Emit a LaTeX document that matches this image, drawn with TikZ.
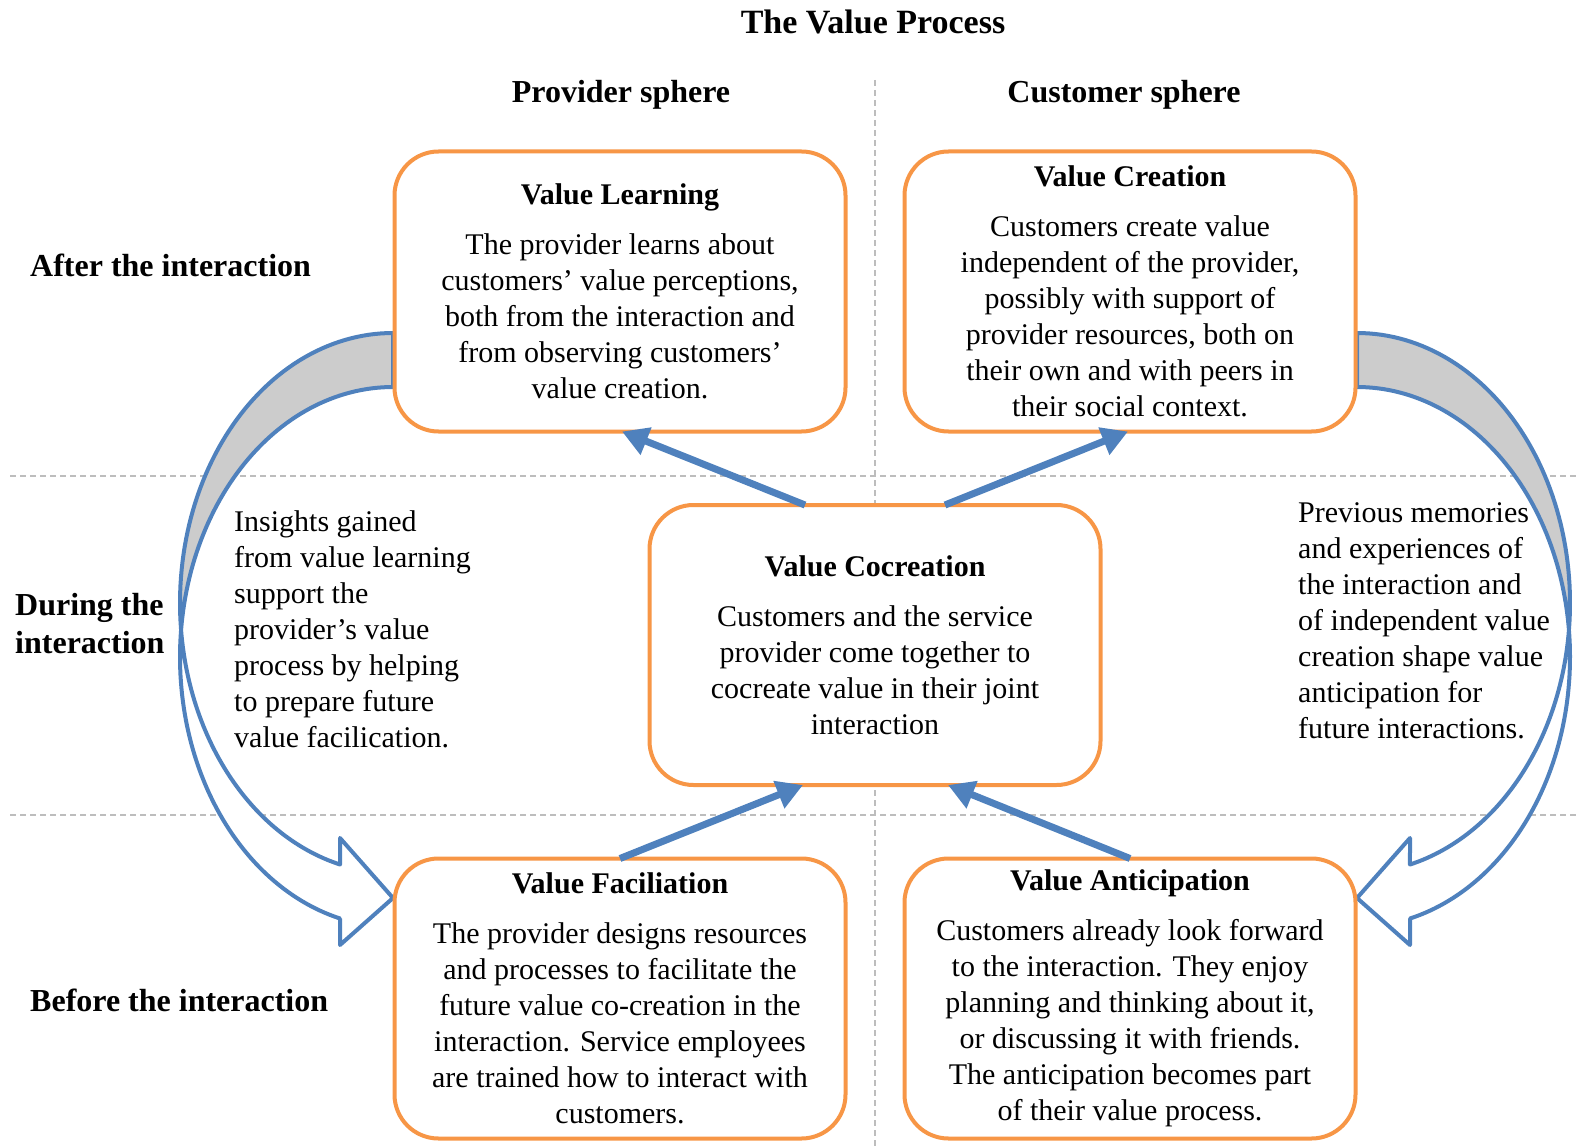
\documentclass[tikz,border=0pt]{standalone}
\usepackage{fontspec}
\setmainfont{Liberation Serif}
\usetikzlibrary{arrows.meta}
\definecolor{org}{HTML}{F79646}
\definecolor{blu}{HTML}{4F81BD}
\definecolor{dashgray}{HTML}{BDBDBD}
\definecolor{backgray}{HTML}{CCCCCC}
\begin{document}
\begin{tikzpicture}[x=1pt,y=-1pt,
  box/.style={draw=org, line width=4pt, fill=white, rounded corners=44pt,
    minimum width=451pt, minimum height=280pt, align=center, inner sep=0pt,
    outer sep=0pt, font=\fontsize{30}{36}\selectfont},
  barrow/.style={draw=blu, line width=7pt, -{Triangle[length=26pt,width=28pt]}},
  carrow/.style={draw=blu, line width=4pt, line join=round},
  sep/.style={draw=dashgray, line width=1.5pt, dash pattern=on 6pt off 4pt},
  hdr/.style={font=\fontsize{32}{38}\selectfont\bfseries},
  note/.style={align=left, anchor=west, inner sep=0pt, font=\fontsize{30}{36}\selectfont}]
\useasboundingbox (0,0) rectangle (1576,1147);

% dashed separators
\draw[sep] (875,80) -- (875,1147);
\draw[sep] (10,476) -- (1576,476);
\draw[sep] (10,815) -- (1576,815);

% left curved arrow
\draw[carrow, fill=backgray]
  plot[domain=-90:-185.74, samples=60] ({393+213*cos(\x)},{603+270*sin(\x)})
  -- plot[domain=-174.26:-90, samples=60] ({393+213*cos(\x)},{657+270*sin(\x)}) -- cycle;
\draw[carrow, fill=white]
  plot[domain=-185.74:-255.6, samples=60] ({393+213*cos(\x)},{603+270*sin(\x)})
  -- (340,838) -- (393,898) -- (340,945) -- (340,918.5)
  -- plot[domain=-255.6:-174.26, samples=60] ({393+213*cos(\x)},{657+270*sin(\x)}) -- cycle;

% right curved arrow
\draw[carrow, fill=backgray]
  plot[domain=-90:-185.74, samples=60] ({1357-213*cos(\x)},{603+270*sin(\x)})
  -- plot[domain=-174.26:-90, samples=60] ({1357-213*cos(\x)},{657+270*sin(\x)}) -- cycle;
\draw[carrow, fill=white]
  plot[domain=-185.74:-255.6, samples=60] ({1357-213*cos(\x)},{603+270*sin(\x)})
  -- (1410,838) -- (1357,898) -- (1410,945) -- (1410,918.5)
  -- plot[domain=-255.6:-174.26, samples=60] ({1357-213*cos(\x)},{657+270*sin(\x)}) -- cycle;

% titles
\node[font=\fontsize{34}{40}\selectfont\bfseries] (title) at (873,22) {The Value Process};
\node[hdr] (prov) at (621,95) {Provider sphere};
\node[hdr] (cust) at (1124,95) {Customer sphere};
\node[hdr, anchor=west, inner sep=0pt] (after) at (30,265) {After the interaction};
\node[hdr, anchor=west, inner sep=0pt, align=left] (during) at (15,624) {During the\\interaction};
\node[hdr, anchor=west, inner sep=0pt] (before) at (30,1000) {Before the interaction};

% boxes
\node[box] (learn) at (620,291.5) {{\bfseries Value Learning}\\[14pt]The provider learns about\\customers’ value perceptions,\\both from the interaction and\\from observing customers’\\value creation.};
\node[box] (create) at (1130,291.5) {{\bfseries Value Creation}\\[14pt]Customers create value\\independent of the provider,\\possibly with support of\\provider resources, both on\\their own and with peers in\\their social context.};
\node[box] (coc) at (875,645) {{\bfseries Value Cocreation}\\[14pt]Customers and the service\\provider come together to\\cocreate value in their joint\\interaction};
\node[box] (fac) at (620,998.5) {{\bfseries Value Faciliation}\\[14pt]The provider designs resources\\and processes to facilitate the\\future value co-creation in the\\interaction. Service employees\\are trained how to interact with\\customers.};
\node[box] (ant) at (1130,998.5) {{\bfseries Value Anticipation}\\[14pt]Customers already look forward\\to the interaction. They enjoy\\planning and thinking about it,\\or discussing it with friends.\\The anticipation becomes part\\of their value process.};

% straight arrows
\draw[barrow] ([xshift=-70pt]coc.north) -- ([xshift=2pt]learn.south);
\draw[barrow] ([xshift=70pt]coc.north) -- ([xshift=-2pt]create.south);
\draw[barrow] (fac.north) -- ([xshift=-72pt]coc.south);
\draw[barrow] (ant.north) -- ([xshift=73pt]coc.south);

% notes
\node[note] (lnote) at (234,629) {Insights gained\\from value learning\\support the\\provider’s value\\process by helping\\to prepare future\\value facilication.};
\node[note] (rnote) at (1298,621) {Previous memories\\and experiences of\\the interaction and\\of independent value\\creation shape value\\anticipation for\\future interactions.};
\end{tikzpicture}
\end{document}
